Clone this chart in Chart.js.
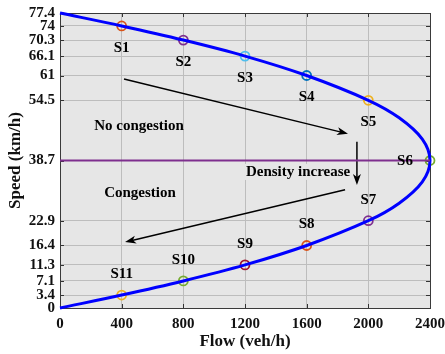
<!DOCTYPE html>
<html>
<head>
<meta charset="utf-8">
<script src="https://cdn.jsdelivr.net/npm/chart.js@4.4.0/dist/chart.umd.min.js"></script>
<style>
html, body { margin: 0; padding: 0; background: #fff; }
#wrap { width: 445px; height: 354px; }
</style>
</head>
<body>
<div id="wrap"><canvas id="speedChart"></canvas></div>
<script>
// flow-speed curve
const curveFlow  = [0, 400, 800, 1200, 1600, 2000, 2200, 2350, 2400, 2350, 2200, 2000, 1600, 1200, 800, 400, 0];
const curveSpeed = [77.4, 74, 70.3, 66.1, 61, 54.5, 49.9, 44.3, 38.7, 33.1, 27.5, 22.9, 16.4, 11.3, 7.1, 3.4, 0];

// the marked states
const stateNames = ['S1', 'S2', 'S3', 'S4', 'S5', 'S6', 'S7', 'S8', 'S9', 'S10', 'S11'];
const stateFlow  = [400, 800, 1200, 1600, 2000, 2400, 2000, 1600, 1200, 800, 400];
const stateSpeed = [74, 70.3, 66.1, 61, 54.5, 38.7, 22.9, 16.4, 11.3, 7.1, 3.4];
const stateColors = ['#D95319', '#7E2F8E', '#4DBEEE', '#0072BD', '#EDB120', '#77AC30',
                     '#7E2F8E', '#D95319', '#A2142F', '#77AC30', '#EDB120'];

const xTicks = [0, 400, 800, 1200, 1600, 2000, 2400];
const yTicks = [0, 3.4, 7.1, 11.3, 16.4, 22.9, 38.7, 54.5, 61, 66.1, 70.3, 74, 77.4];
const capacitySpeed = 38.7;

// arrows [fromFlow, fromSpeed, toFlow, toSpeed]
const arrowPaths = [
  [415, 60.1, 1868, 45.7],
  [1926, 43.6, 1926, 32.3],
  [1849, 31.0, 422, 17.3]
];
// notes [text, flow, speed]
const notes = [
  ['No congestion', 512, 47.8],
  ['Congestion', 519, 30.2],
  ['Density increase', 1544, 35.7]
];

const serif = "'Times New Roman', 'Liberation Serif', serif";
const plotBg = '#e6e6e6';

const curvePts = curveFlow.map((f, i) => ({ x: f, y: curveSpeed[i] }));
const statePts = stateFlow.map((f, i) => ({ x: f, y: stateSpeed[i] }));

const decor = {
  id: 'decor',
  beforeDraw(chart) {
    const { ctx, chartArea: a } = chart;
    ctx.save();
    ctx.fillStyle = plotBg;
    ctx.fillRect(a.left, a.top, a.right - a.left, a.bottom - a.top);
    ctx.restore();
  },
  beforeDatasetsDraw(chart) {
    const { ctx, chartArea: a, scales } = chart;
    ctx.save();
    ctx.strokeStyle = '#333';
    ctx.lineWidth = 1;
    ctx.beginPath();
    xTicks.forEach(v => {
      const px = Math.round(scales.x.getPixelForValue(v)) + 0.5;
      ctx.moveTo(px, a.top); ctx.lineTo(px, a.top + 4);
      ctx.moveTo(px, a.bottom); ctx.lineTo(px, a.bottom - 4);
    });
    yTicks.forEach(v => {
      const py = Math.round(scales.y.getPixelForValue(v)) + 0.5;
      ctx.moveTo(a.left, py); ctx.lineTo(a.left + 4, py);
      ctx.moveTo(a.right, py); ctx.lineTo(a.right - 4, py);
    });
    ctx.stroke();
    ctx.strokeStyle = '#3a3a3a';
    ctx.strokeRect(Math.round(a.left) + 0.5, Math.round(a.top) + 0.5,
                   Math.round(a.right - a.left), Math.round(a.bottom - a.top));

    // arrows
    ctx.strokeStyle = '#000';
    ctx.fillStyle = '#000';
    ctx.lineWidth = 1.5;
    arrowPaths.forEach(p => {
      const x1 = scales.x.getPixelForValue(p[0]), y1 = scales.y.getPixelForValue(p[1]);
      const x2 = scales.x.getPixelForValue(p[2]), y2 = scales.y.getPixelForValue(p[3]);
      const ang = Math.atan2(y2 - y1, x2 - x1);
      ctx.beginPath();
      ctx.moveTo(x1, y1);
      ctx.lineTo(x2 - 6 * Math.cos(ang), y2 - 6 * Math.sin(ang));
      ctx.stroke();
      ctx.save();
      ctx.translate(x2, y2);
      ctx.rotate(ang);
      ctx.beginPath();
      ctx.moveTo(0, 0);
      ctx.lineTo(-11, -4);
      ctx.lineTo(-8, 0);
      ctx.lineTo(-11, 4);
      ctx.closePath();
      ctx.fill();
      ctx.restore();
    });
    ctx.restore();
  },
  afterDatasetsDraw(chart) {
    const { ctx, scales } = chart;
    ctx.save();
    ctx.font = 'bold 15px ' + serif;
    ctx.textAlign = 'center';
    ctx.textBaseline = 'middle';
    ctx.fillStyle = '#000';
    notes.forEach(n => {
      const px = scales.x.getPixelForValue(n[1]), py = scales.y.getPixelForValue(n[2]);
      if (n[0] === 'Density increase') {
        const w = ctx.measureText(n[0]).width;
        ctx.fillStyle = plotBg;
        ctx.fillRect(px - w / 2 - 1, py - 8, w + 2, 16);
        ctx.fillStyle = '#000';
      }
      ctx.fillText(n[0], px, py);
    });
    const meta = chart.getDatasetMeta(2);
    meta.data.forEach((pt, i) => {
      let dx = 0, dy = 22;
      if (i === 5) { dx = -25; dy = 1; }
      else if (i > 5) dy = -21;
      ctx.fillText(stateNames[i], pt.x + dx, pt.y + dy);
    });
    ctx.restore();
  }
};

new Chart(document.getElementById('speedChart'), {
  type: 'scatter',
  data: {
    datasets: [
      {
        data: [{ x: xTicks[0], y: capacitySpeed }, { x: xTicks[xTicks.length - 1], y: capacitySpeed }],
        showLine: true,
        borderColor: '#7E2F8E',
        borderWidth: 2,
        pointRadius: 0,
        clip: false
      },
      {
        data: curvePts,
        showLine: true,
        borderColor: '#0000ff',
        borderWidth: 3,
        tension: 0.35,
        pointRadius: 0,
        clip: false
      },
      {
        data: statePts,
        pointRadius: 4.5,
        pointBorderWidth: 1.8,
        pointBackgroundColor: 'rgba(0,0,0,0)',
        pointBorderColor: stateColors,
        clip: false
      }
    ]
  },
  options: {
    responsive: true,
    maintainAspectRatio: false,
    animation: false,
    layout: { padding: { top: 13, right: 15, left: 0, bottom: 0 } },
    plugins: { legend: { display: false }, tooltip: { enabled: false } },
    scales: {
      x: {
        type: 'linear',
        min: 0,
        max: 2400,
        afterBuildTicks: s => { s.ticks = xTicks.map(v => ({ value: v })); },
        afterFit: s => { s.height = 46; s.paddingLeft = 0; s.paddingRight = 0; },
        grid: { color: '#bdbdbd', drawTicks: false },
        border: { display: false },
        ticks: {
          color: '#111',
          padding: 7,
          font: { family: serif, size: 15, weight: 'bold' },
          callback: v => String(v)
        },
        title: {
          display: true,
          text: 'Flow (veh/h)',
          color: '#111',
          padding: { top: 0, bottom: 2 },
          font: { family: serif, size: 17, weight: 'bold' }
        }
      },
      y: {
        type: 'linear',
        min: 0,
        max: 77.4,
        afterBuildTicks: s => { s.ticks = yTicks.map(v => ({ value: v })); },
        afterFit: s => { s.width = 60; s.paddingTop = 0; s.paddingBottom = 0; },
        grid: { color: '#bdbdbd', drawTicks: false },
        border: { display: false },
        ticks: {
          color: '#111',
          padding: 5,
          font: { family: serif, size: 15, weight: 'bold' },
          callback: v => String(v)
        },
        title: {
          display: true,
          text: 'Speed (km/h)',
          color: '#111',
          padding: { top: 5, bottom: 0 },
          font: { family: serif, size: 17, weight: 'bold' }
        }
      }
    }
  },
  plugins: [decor]
});
</script>
</body>
</html>
